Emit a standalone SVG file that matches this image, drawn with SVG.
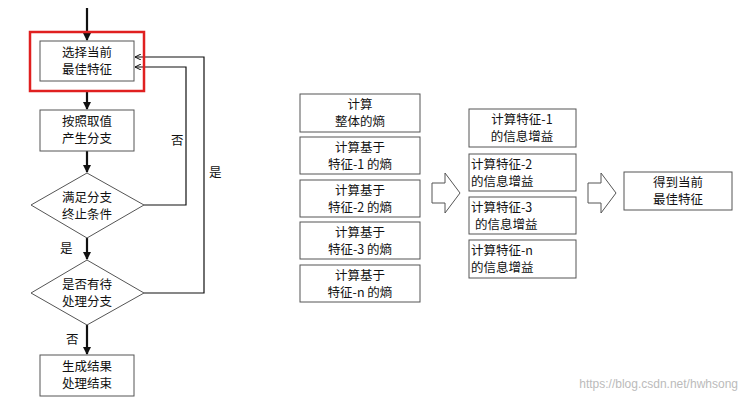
<svg xmlns="http://www.w3.org/2000/svg" width="747" height="401" viewBox="0 0 747 401">
<style>
.b{fill:#fff;stroke:#555;stroke-width:1}
.t{font-family:"Noto Sans CJK SC","Liberation Sans",sans-serif;font-size:12.5px;fill:#111}
.c{text-anchor:middle}
.l{fill:none;stroke:#111;stroke-width:1.2}
.k{fill:none;stroke:#111;stroke-width:2.2}
</style>
<defs>
<marker id="a" markerWidth="8" markerHeight="8" refX="7" refY="4" orient="auto" markerUnits="userSpaceOnUse"><path d="M0,0L8,4L0,8z" fill="#111"/></marker>
<marker id="s" markerWidth="6" markerHeight="6" refX="6" refY="3" orient="auto" markerUnits="userSpaceOnUse"><path d="M0,0L6,3L0,6" fill="none" stroke="#111"/></marker>
</defs>
<rect width="747" height="401" fill="#fff"/>
<g id="connectors">
<line class="k" x1="87" y1="8" x2="87" y2="40" marker-end="url(#a)"/>
<line class="k" x1="87" y1="91" x2="87" y2="109" marker-end="url(#a)"/>
<line class="k" x1="87" y1="151" x2="87" y2="172" marker-end="url(#a)"/>
<line class="k" x1="87" y1="238" x2="87" y2="259" marker-end="url(#a)"/>
<line class="k" x1="87" y1="325" x2="87" y2="354" marker-end="url(#a)"/>
<polyline class="l" points="144,205 186,205 186,67 135,67" marker-end="url(#s)"/>
<polyline class="l" points="144,293 204,293 204,57 135,57" marker-end="url(#s)"/>
<text class="t" x="171" y="145">否</text>
<text class="t" x="209" y="177">是</text>
<text class="t" x="60" y="253">是</text>
<text class="t" x="66" y="344">否</text>
<path d="M432,183H445V173L460,193L445,213V203H432Z" fill="#fff" stroke="#555"/>
<path d="M588,183H601V173L616,193L601,213V203H588Z" fill="#fff" stroke="#555"/>
</g>
<g id="n1"><rect x="30" y="32" width="114" height="59" fill="none" stroke="#e02020" stroke-width="2.5"/><rect class="b" x="40" y="41" width="94" height="40"/><text class="t c" x="87" y="57">选择当前</text><text class="t c" x="87" y="74">最佳特征</text></g>
<g id="n2"><rect class="b" x="40" y="110" width="94" height="41"/><text class="t c" x="87" y="126">按照取值</text><text class="t c" x="87" y="143">产生分支</text></g>
<g id="n3"><polygon class="b" points="87,173 144,205 87,238 31,205"/><text class="t c" x="87" y="202">满足分支</text><text class="t c" x="87" y="219">终止条件</text></g>
<g id="n4"><polygon class="b" points="87,260 144,293 87,325 31,293"/><text class="t c" x="87" y="289">是否有待</text><text class="t c" x="87" y="306">处理分支</text></g>
<g id="n5"><rect class="b" x="40" y="355" width="94" height="41"/><text class="t c" x="87" y="371">生成结果</text><text class="t c" x="87" y="388">处理结束</text></g>
<g id="e0"><rect class="b" x="300" y="94" width="120" height="38"/><text class="t c" x="360" y="109">计算</text><text class="t c" x="360" y="126">整体的熵</text></g>
<g id="e1"><rect class="b" x="300" y="137" width="120" height="37"/><text class="t c" x="360" y="152">计算基于</text><text class="t c" x="360" y="169">特征-1 的熵</text></g>
<g id="e2"><rect class="b" x="300" y="180" width="120" height="37"/><text class="t c" x="360" y="195">计算基于</text><text class="t c" x="360" y="212">特征-2 的熵</text></g>
<g id="e3"><rect class="b" x="300" y="222" width="120" height="37"/><text class="t c" x="360" y="237">计算基于</text><text class="t c" x="360" y="254">特征-3 的熵</text></g>
<g id="e4"><rect class="b" x="300" y="265" width="120" height="37"/><text class="t c" x="360" y="280">计算基于</text><text class="t c" x="360" y="297">特征-n 的熵</text></g>
<g id="g1"><rect class="b" x="469" y="109" width="107" height="38"/><text class="t c" x="522" y="124">计算特征-1</text><text class="t c" x="522" y="141">的信息增益</text></g>
<g id="g2"><rect class="b" x="469" y="154" width="107" height="37"/><text class="t" x="471" y="169">计算特征-2</text><text class="t" x="471" y="186">的信息增益</text></g>
<g id="g3"><rect class="b" x="469" y="197" width="107" height="37"/><text class="t" x="471" y="212">计算特征-3</text><text class="t" x="475" y="229">的信息增益</text></g>
<g id="g4"><rect class="b" x="469" y="240" width="107" height="38"/><text class="t" x="471" y="255">计算特征-n</text><text class="t" x="471" y="272">的信息增益</text></g>
<g id="f"><rect class="b" x="624" y="172" width="108" height="38"/><text class="t c" x="678" y="187">得到当前</text><text class="t c" x="678" y="204">最佳特征</text></g>
<text x="738" y="388" text-anchor="end" font-family="Liberation Sans,sans-serif" font-size="12" fill="#bbb">https://blog.csdn.net/hwhsong</text>
</svg>
